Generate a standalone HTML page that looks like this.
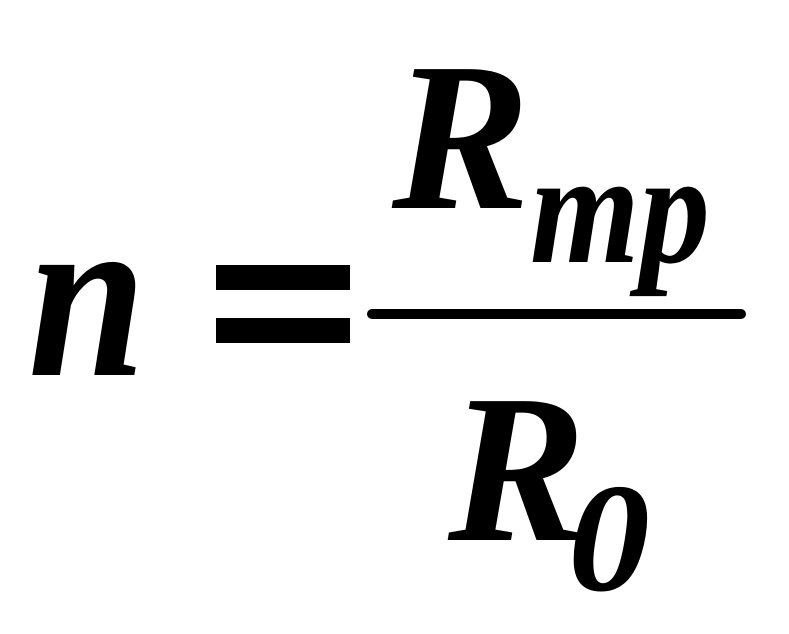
<!DOCTYPE html>
<html><head><meta charset="utf-8"><style>
html,body{margin:0;padding:0;background:#fff;}
svg{display:block;}
text{font-family:"Liberation Serif",serif;font-weight:bold;font-style:italic;fill:#000;}
</style></head><body>
<svg width="789" height="634" viewBox="0 0 789 634" xmlns="http://www.w3.org/2000/svg">
<text x="28" y="375" font-size="240" textLength="118" lengthAdjust="spacingAndGlyphs">n</text>
<rect x="216" y="265" width="134" height="25" fill="#000"/>
<rect x="216" y="318" width="134" height="25" fill="#000"/>
<text x="392" y="208" font-size="212" textLength="138" lengthAdjust="spacingAndGlyphs">R</text>
<text x="530" y="262" font-size="160" textLength="180" lengthAdjust="spacingAndGlyphs">mp</text>
<line x1="372" y1="314" x2="741" y2="314" stroke="#000" stroke-width="10" stroke-linecap="round"/>
<text x="448" y="540" font-size="212" textLength="138" lengthAdjust="spacingAndGlyphs">R</text>
<text x="568" y="590" font-size="155" textLength="82" lengthAdjust="spacingAndGlyphs">0</text>
</svg>
</body></html>
